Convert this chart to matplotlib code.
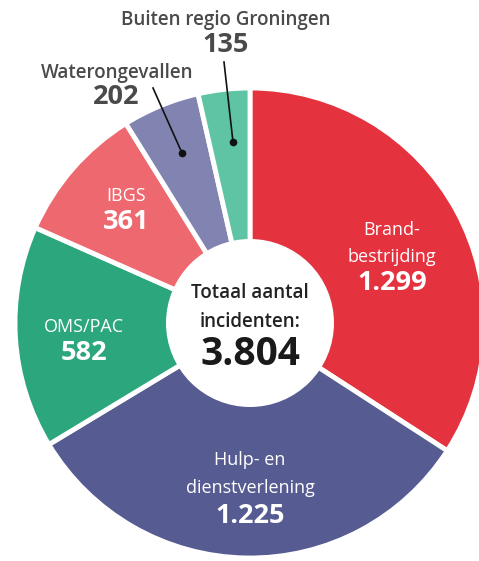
import matplotlib
matplotlib.use("Agg")
import matplotlib.pyplot as plt
from matplotlib.patches import Circle

plt.rcParams['font.family'] = ['Open Sans', 'DejaVu Sans']

# data
categories = ['Brandbestrijding', 'Hulp- en dienstverlening', 'OMS/PAC',
              'IBGS', 'Waterongevallen', 'Buiten regio Groningen']
values = [1299, 1225, 582, 361, 202, 135]
value_labels = ['1.299', '1.225', '582', '361', '202', '135']
total_label = '3.804'
colors = ['#E4323F', '#565B91', '#2CA67D', '#EE6870', '#8184B0', '#5FC4A3']

W, H = 479, 561
fig = plt.figure(figsize=(W / 100, H / 100), dpi=100, facecolor='white')
ax = fig.add_axes([0, 0, 1, 1])

# pie (y axis is flipped, so counterclock=True draws clockwise on screen)
cx, cy, R = 250, 323, 235
ax.pie(values, colors=colors, startangle=-90, counterclock=True,
       center=(cx, cy), radius=R, frame=True,
       wedgeprops=dict(edgecolor='white', linewidth=3.5))
ax.set_xlim(0, W)
ax.set_ylim(H, 0)
ax.set_aspect('equal')
ax.axis('off')

ax.add_patch(Circle((cx, cy), 84, facecolor='white', edgecolor='none', zorder=5))

white = 'white'
dark = '#4A4A4A'
lab = 13
num = 19.5

# labels inside slices
ax.text(392, 230, 'Brand-', color=white, fontsize=lab, ha='center', va='center')
ax.text(392, 257, 'bestrijding', color=white, fontsize=lab, ha='center', va='center')
ax.text(392, 283, value_labels[0], color=white, fontsize=num, fontweight='bold', ha='center', va='center')

ax.text(250, 460, 'Hulp- en', color=white, fontsize=lab, ha='center', va='center')
ax.text(250, 488, 'dienstverlening', color=white, fontsize=lab, ha='center', va='center')
ax.text(250, 516, value_labels[1], color=white, fontsize=num, fontweight='bold', ha='center', va='center')

ax.text(84, 327, categories[2], color=white, fontsize=lab, ha='center', va='center')
ax.text(84, 353, value_labels[2], color=white, fontsize=num, fontweight='bold', ha='center', va='center')

ax.text(126, 196, categories[3], color=white, fontsize=lab, ha='center', va='center')
ax.text(126, 222, value_labels[3], color=white, fontsize=num, fontweight='bold', ha='center', va='center')

# labels outside with leader lines
ax.text(117, 73, categories[4], color=dark, fontsize=13.5, fontweight='semibold', ha='center', va='center')
ax.text(116, 97, value_labels[4], color=dark, fontsize=num, fontweight='bold', ha='center', va='center')
ax.plot([153, 182], [88, 153], color='#111111', lw=1.2, zorder=6)
ax.plot([182], [153], 'o', color='#111111', ms=4.5, zorder=6)

ax.text(226, 20, categories[5], color=dark, fontsize=13.5, fontweight='semibold', ha='center', va='center')
ax.text(226, 45, value_labels[5], color=dark, fontsize=num, fontweight='bold', ha='center', va='center')
ax.plot([224, 233], [62, 142], color='#111111', lw=1.2, zorder=6)
ax.plot([233], [142], 'o', color='#111111', ms=4.5, zorder=6)

# center text
ax.text(cx, 293, 'Totaal aantal', color='#222222', fontsize=13.5, fontweight='semibold',
        ha='center', va='center', zorder=6)
ax.text(cx, 322, 'incidenten:', color='#222222', fontsize=13.5, fontweight='semibold',
        ha='center', va='center', zorder=6)
ax.text(cx, 354, total_label, color='#1A1A1A', fontsize=28, fontweight='bold',
        ha='center', va='center', zorder=6)

fig.savefig('out.png', dpi=100, facecolor='white')
